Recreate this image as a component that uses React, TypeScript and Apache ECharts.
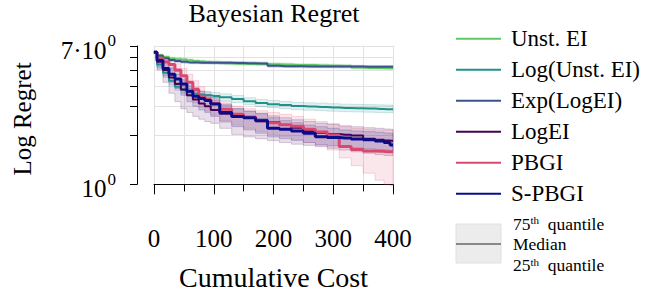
import React, { useEffect, useRef } from 'react';
import * as echarts from 'echarts';

// ---------- data ----------
const X_VALUES = [0, 10, 20, 30, 40, 50, 60, 70, 80, 90, 100, 120, 140, 160, 180, 200, 220, 240, 260, 280, 300, 320, 340, 360, 380, 390, 400];

const SERIES_NAMES = ['Unst. EI', 'Log(Unst. EI)', 'Exp(LogEI)', 'LogEI', 'PBGI', 'S-PBGI'];

// medians
const UNST_EI = [6.4, 6.15, 6.0, 5.88, 5.82, 5.78, 5.72, 5.66, 5.62, 5.58, 5.55, 5.5, 5.46, 5.44, 5.43, 5.42, 5.40, 5.36, 5.35, 5.33, 5.30, 5.28, 5.18, 5.14, 5.13, 5.12, 5.12];
const LOG_UNST_EI = [6.4, 5.4, 4.8, 4.3, 3.95, 3.78, 3.65, 3.58, 3.54, 3.5, 3.47, 3.4, 3.32, 3.22, 3.14, 3.09, 3.05, 3.01, 2.99, 2.97, 2.95, 2.93, 2.92, 2.91, 2.89, 2.88, 2.88];
const EXP_LOGEI = [6.4, 6.1, 5.9, 5.75, 5.66, 5.60, 5.56, 5.55, 5.54, 5.54, 5.54, 5.53, 5.52, 5.50, 5.48, 5.30, 5.27, 5.26, 5.25, 5.25, 5.25, 5.24, 5.24, 5.23, 5.23, 5.22, 5.22];
const LOGEI = [6.4, 5.6, 5.0, 4.5, 4.1, 3.8, 3.5, 3.3, 3.12, 3.0, 2.85, 2.7, 2.62, 2.55, 2.48, 2.4, 2.3, 2.22, 2.12, 2.06, 2.03, 2.01, 1.99, 1.9, 1.87, 1.85, 1.84];
const PBGI = [6.4, 5.9, 5.6, 5.4, 5.0, 4.6, 4.2, 3.8, 3.45, 3.3, 3.12, 2.88, 2.68, 2.58, 2.45, 2.38, 2.31, 2.26, 2.17, 2.09, 2.0, 1.7, 1.63, 1.6, 1.59, 1.58, 1.58];
const S_PBGI = [6.4, 5.7, 5.1, 4.7, 4.4, 4.1, 3.7, 3.45, 3.35, 3.25, 3.1, 2.75, 2.6, 2.55, 2.45, 2.2, 2.17, 2.12, 2.05, 1.95, 1.93, 1.92, 1.89, 1.87, 1.84, 1.80, 1.74];

// 25th quantiles
const UNST_EI_LO = [6.3, 6.05, 5.9, 5.78, 5.7, 5.66, 5.6, 5.55, 5.5, 5.46, 5.43, 5.38, 5.35, 5.33, 5.32, 5.31, 5.29, 5.25, 5.24, 5.22, 5.2, 5.17, 5.08, 5.04, 5.03, 5.02, 5.02];
const LOG_UNST_EI_LO = [6.3, 5.1, 4.5, 4.05, 3.75, 3.6, 3.48, 3.42, 3.38, 3.34, 3.31, 3.24, 3.16, 3.07, 2.99, 2.94, 2.9, 2.86, 2.84, 2.82, 2.8, 2.78, 2.77, 2.76, 2.75, 2.74, 2.74];
const EXP_LOGEI_LO = [6.3, 6.0, 5.78, 5.64, 5.55, 5.5, 5.46, 5.45, 5.44, 5.44, 5.44, 5.43, 5.42, 5.4, 5.37, 5.2, 5.17, 5.16, 5.15, 5.15, 5.15, 5.14, 5.14, 5.13, 5.13, 5.12, 5.12];
const LOGEI_LO = [6.3, 5.0, 4.2, 3.6, 3.2, 2.9, 2.75, 2.6, 2.5, 2.42, 2.36, 2.2, 2.02, 1.95, 1.9, 1.85, 1.8, 1.76, 1.73, 1.7, 1.66, 1.62, 1.58, 1.55, 1.52, 1.5, 1.5];
const PBGI_LO = [6.3, 5.5, 5.0, 4.6, 4.2, 3.8, 3.45, 3.15, 2.95, 2.8, 2.65, 2.45, 2.3, 2.2, 2.1, 2.02, 1.95, 1.88, 1.8, 1.72, 1.62, 1.45, 1.3, 1.17, 1.06, 1.0, 0.98];
const S_PBGI_LO = [6.3, 5.2, 4.6, 4.2, 3.85, 3.5, 3.2, 3.0, 2.85, 2.75, 2.6, 2.4, 2.25, 2.15, 2.05, 1.95, 1.9, 1.85, 1.8, 1.75, 1.72, 1.7, 1.67, 1.65, 1.63, 1.62, 1.6];

// 75th quantiles
const UNST_EI_HI = [6.5, 6.28, 6.12, 6.0, 5.94, 5.9, 5.84, 5.78, 5.74, 5.7, 5.67, 5.62, 5.58, 5.56, 5.55, 5.54, 5.52, 5.48, 5.47, 5.45, 5.42, 5.4, 5.3, 5.26, 5.25, 5.24, 5.24];
const LOG_UNST_EI_HI = [6.5, 5.7, 5.1, 4.6, 4.2, 4.0, 3.85, 3.76, 3.71, 3.67, 3.64, 3.57, 3.49, 3.38, 3.3, 3.25, 3.21, 3.17, 3.15, 3.13, 3.11, 3.09, 3.08, 3.07, 3.06, 3.05, 3.05];
const EXP_LOGEI_HI = [6.5, 6.2, 6.02, 5.87, 5.78, 5.72, 5.68, 5.66, 5.65, 5.65, 5.65, 5.64, 5.63, 5.61, 5.59, 5.4, 5.37, 5.36, 5.35, 5.35, 5.35, 5.34, 5.34, 5.33, 5.33, 5.32, 5.32];
const LOGEI_HI = [6.5, 5.9, 5.5, 5.1, 4.7, 4.35, 4.0, 3.75, 3.55, 3.4, 3.25, 3.05, 2.9, 2.8, 2.72, 2.62, 2.55, 2.48, 2.42, 2.36, 2.32, 2.28, 2.25, 2.22, 2.2, 2.18, 2.17];
const PBGI_HI = [6.5, 6.1, 5.85, 5.7, 5.45, 5.1, 4.7, 4.3, 3.95, 3.7, 3.5, 3.2, 3.0, 2.9, 2.82, 2.75, 2.68, 2.6, 2.5, 2.42, 2.35, 2.25, 2.2, 2.17, 2.15, 2.14, 2.14];
const S_PBGI_HI = [6.5, 6.0, 5.6, 5.2, 4.9, 4.6, 4.2, 3.9, 3.7, 3.55, 3.4, 3.1, 2.9, 2.8, 2.7, 2.55, 2.45, 2.38, 2.3, 2.25, 2.2, 2.15, 2.12, 2.1, 2.08, 2.06, 2.05];

const Y_GRID_VALUES = [1, 2, 3, 4, 5, 6, 7];
const Y_LABEL_VALUES = [1, 7];
const X_LABEL_STEP = 100;
const Y_MIN = 0.894;
const Y_MAX = 7.03;

// ---------- style ----------
const COLORS = ['#5ec962', '#21918c', '#3b528b', '#440154', '#d9486f', '#0c0c8a'];
const WIDTHS = [2, 2, 2, 2, 3, 3];
const FONT = 'Liberation Serif, Times New Roman, serif';
const GRID_COLOR = '#e2e2e2';
const PLOT = { left: 154, top: 45.7, width: 239, height: 146.6 };

const lg = (v: number) => Math.log10(v);

// step-'middle' outline of a series, in data space
function stepPoints(xs: number[], ys: number[]): number[][] {
  const pts: number[][] = [];
  for (let j = 0; j < xs.length; j++) {
    if (j > 0) {
      const m = (xs[j - 1] + xs[j]) / 2;
      pts.push([m, ys[j - 1]]);
      pts.push([m, ys[j]]);
    }
    pts.push([xs[j], ys[j]]);
  }
  return pts;
}

export default function App() {
  const ref = useRef<HTMLDivElement>(null);
  useEffect(() => {
    if (!ref.current) return;
    const chart = echarts.init(ref.current, undefined, { renderer: 'svg' });

    const medians = [UNST_EI, LOG_UNST_EI, EXP_LOGEI, LOGEI, PBGI, S_PBGI];
    const lows = [UNST_EI_LO, LOG_UNST_EI_LO, EXP_LOGEI_LO, LOGEI_LO, PBGI_LO, S_PBGI_LO];
    const highs = [UNST_EI_HI, LOG_UNST_EI_HI, EXP_LOGEI_HI, LOGEI_HI, PBGI_HI, S_PBGI_HI];

    const yMinL = lg(Y_MIN);
    const yMaxL = lg(Y_MAX);
    const pxPerUnit = PLOT.height / (yMaxL - yMinL);
    const spineTop = PLOT.top + (yMaxL - lg(7)) * pxPerUnit;
    const spineHeight = (lg(7) - lg(1)) * pxPerUnit;

    const bandSeries = medians.map((_, i) => {
      const loL = lows[i].map(lg);
      const hiL = highs[i].map(lg);
      const upper = stepPoints(X_VALUES, hiL);
      const lower = stepPoints(X_VALUES, loL).reverse();
      return {
        type: 'custom', xAxisIndex: 0, yAxisIndex: 0, silent: true, z: 1,
        encode: { x: 0, y: [1, 2] },
        data: X_VALUES.map((x, j) => [x, loL[j], hiL[j]]),
        renderItem: (params: any, api: any) => {
          if (params.dataIndex !== 0) return null;
          const poly = upper.concat(lower).map((p) => api.coord(p));
          return {
            type: 'polygon',
            shape: { points: poly },
            style: { fill: COLORS[i], opacity: 1, fillOpacity: 0.13, stroke: COLORS[i], strokeOpacity: 0.25, lineWidth: 0.8 },
          };
        },
      };
    });

    const lineSeries = medians.map((m, i) => ({
      name: SERIES_NAMES[i], type: 'line', xAxisIndex: 0, yAxisIndex: 0, step: 'middle',
      symbol: 'none', z: 3 + i, color: COLORS[i],
      data: X_VALUES.map((x, j) => [x, lg(m[j])]),
      lineStyle: { color: COLORS[i], width: WIDTHS[i] },
    }));

    const txt = { fontFamily: FONT, color: '#000' };
    const qRich = {
      m: { ...txt, fontSize: 17.5, lineHeight: 16 },
      s: { ...txt, fontSize: 11, lineHeight: 16, padding: [0, 0, 7, 0] },
    };

    chart.setOption({
      animation: false,
      title: {
        text: 'Bayesian Regret', left: 274, top: 0, textAlign: 'center', padding: 0,
        textStyle: { ...txt, fontSize: 26, fontWeight: 'normal' },
      },
      legend: {
        data: SERIES_NAMES, orient: 'vertical', left: 456, top: 25.7, padding: 0,
        icon: 'rect', itemWidth: 45, itemHeight: 2, itemGap: 5, selectedMode: false,
        textStyle: { ...txt, fontSize: 23, lineHeight: 26, padding: [0, 0, 0, 5] },
      },
      grid: [
        { left: PLOT.left, top: PLOT.top, width: PLOT.width, height: PLOT.height },
        { left: 137, top: spineTop, width: 10, height: spineHeight },
      ],
      xAxis: [
        {
          gridIndex: 0, type: 'value', min: 0, max: 400, interval: X_LABEL_STEP, offset: 16,
          axisLine: { show: true, lineStyle: { color: '#000', width: 1 } },
          axisTick: { show: true, length: 10, lineStyle: { color: '#000', width: 1 } },
          minorTick: { show: true, splitNumber: 2, length: 7, lineStyle: { color: '#000', width: 1 } },
          splitLine: { show: true, lineStyle: { color: GRID_COLOR, width: 1 } },
          minorSplitLine: { show: true, lineStyle: { color: GRID_COLOR, width: 1 } },
          axisLabel: { ...txt, fontSize: 25, margin: 18, showMinLabel: true, showMaxLabel: true, hideOverlap: false },
          name: 'Cumulative Cost', nameLocation: 'middle', nameGap: 55,
          nameTextStyle: { ...txt, fontSize: 28 },
        },
        { gridIndex: 1, type: 'value', min: 0, max: 1, show: false },
      ],
      yAxis: [
        {
          gridIndex: 0, type: 'value', min: yMinL, max: yMaxL,
          axisLine: { show: false },
          axisTick: { show: false, customValues: Y_GRID_VALUES.map(lg) },
          axisLabel: { show: false },
          splitLine: { show: true, lineStyle: { color: GRID_COLOR, width: 1 } },
          name: 'Log Regret', nameLocation: 'middle', nameGap: 119, nameRotate: 90,
          nameTextStyle: { ...txt, fontSize: 25 },
        },
        {
          gridIndex: 1, type: 'value', min: 0, max: lg(7), position: 'left',
          axisLine: { show: true, lineStyle: { color: '#000', width: 1 } },
          axisTick: { show: true, length: 7, customValues: Y_GRID_VALUES.map(lg), lineStyle: { color: '#000', width: 1 } },
          splitLine: { show: false },
          axisLabel: {
            show: true, margin: 21, customValues: Y_LABEL_VALUES.map(lg),
            formatter: (v: number) => (Math.abs(v) < 1e-9 ? '{m|10}{s|0}' : '{m|7·10}{s|0}'),
            rich: {
              m: { ...txt, fontSize: 25, lineHeight: 25, padding: [8.4, 0, 0, 0] },
              s: { ...txt, fontSize: 17, lineHeight: 25, padding: [0, 0, 10.6, 1] },
            },
          },
        },
      ],
      graphic: [
        { type: 'rect', shape: { x: 456, y: 224, width: 45, height: 39 }, style: { fill: '#ececec', stroke: '#e0e0e0', lineWidth: 1 }, silent: true },
        { type: 'line', shape: { x1: 456, y1: 244, x2: 501, y2: 244 }, style: { stroke: '#888888', lineWidth: 2 }, silent: true },
        {
          type: 'text', x: 513, y: 223.5, silent: true,
          style: { text: '{m|75}{s|th}{m|  quantile}', verticalAlign: 'middle', align: 'left', rich: qRich },
        },
        {
          type: 'text', x: 513, y: 244, silent: true,
          style: { text: 'Median', verticalAlign: 'middle', align: 'left', fontFamily: FONT, fontSize: 17.5, lineHeight: 16, fill: '#000' },
        },
        {
          type: 'text', x: 513, y: 265, silent: true,
          style: { text: '{m|25}{s|th}{m|  quantile}', verticalAlign: 'middle', align: 'left', rich: qRich },
        },
      ],
      series: [...bandSeries, ...lineSeries],
    });

    return () => chart.dispose();
  }, []);

  return <div ref={ref} style={{ position: 'fixed', left: 0, top: 0, width: 649, height: 296, background: '#fff' }} />;
}
